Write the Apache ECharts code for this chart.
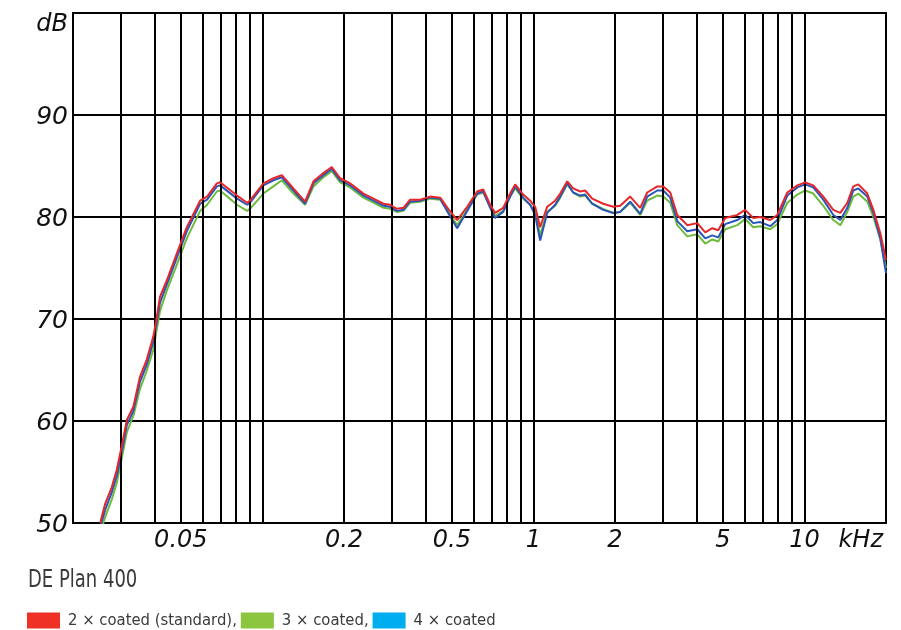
<!DOCTYPE html>
<html>
<head>
<meta charset="utf-8">
<script src="https://cdn.jsdelivr.net/npm/echarts@6/dist/echarts.min.js"></script>
<style>
html,body{margin:0;padding:0;background:#fff;}
#chart{width:901px;height:630px;}
</style>
</head>
<body>
<div id="chart"></div>
<script>
// Frequencies in kHz
const freqKHz = [0.0252,0.0263,0.0278,0.0290,0.0304,0.0316,0.0334,0.0353,0.0374,0.0396,
0.0407,0.0419,0.0444,0.0483,0.0526,0.0589,0.0625,0.0679,0.0698,0.0806,
0.0878,0.0900,0.1008,0.1098,0.1179,0.1301,0.1437,0.1543,0.1679,0.1803,
0.1935,0.2106,0.2358,0.2569,0.2797,0.2960,0.3133,0.3314,0.3508,0.3820,
0.4159,0.4529,0.4848,0.5232,0.5697,0.6201,0.6527,0.6926,0.7226,0.7733,
0.8207,0.8565,0.9166,0.9728,1.015,1.059,1.124,1.203,1.256,1.333,
1.402,1.488,1.552,1.648,1.809,1.970,2.090,2.276,2.478,2.630,
2.864,3.014,3.198,3.394,3.696,4.024,4.306,4.570,4.808,5.104,
5.652,6.048,6.474,6.871,7.482,7.941,8.646,9.415,10.07,10.78,
11.74,12.78,13.57,14.40,15.15,15.81,17.06,17.96,19.06,20.0];

const redDB = [50.0,51.9,53.5,55.2,57.8,60.1,61.4,64.3,66.0,68.3,
70.1,72.2,73.8,76.4,79.0,81.6,82.0,83.3,83.4,82.1,
81.4,81.6,83.3,83.8,84.1,82.8,81.5,83.5,84.3,84.9,
83.8,83.3,82.3,81.8,81.3,81.2,80.8,80.9,81.7,81.7,
82.0,81.9,80.8,79.7,81.0,82.5,82.7,81.2,80.4,80.9,
82.3,83.2,82.2,81.6,81.0,79.0,81.0,81.6,82.3,83.5,
82.8,82.5,82.6,81.8,81.3,81.0,81.1,82.0,80.9,82.4,
83.0,83.0,82.4,80.2,79.2,79.4,78.5,78.9,78.7,79.9,
80.2,80.7,79.9,80.0,79.7,80.2,82.4,83.1,83.4,83.1,
82.0,80.7,80.4,81.4,83.0,83.2,82.3,80.7,78.4,75.8];

const greenDB = [49.0,50.6,52.3,53.9,56.6,58.9,60.5,63.1,64.9,67.0,
68.9,70.8,72.8,75.3,77.9,80.6,81.2,82.5,82.6,81.2,
80.6,80.8,82.3,83.0,83.6,82.3,81.2,83.0,83.9,84.5,
83.4,82.9,81.9,81.4,80.9,80.8,80.5,80.6,81.4,81.5,
81.8,81.7,80.5,79.2,80.7,82.2,82.4,81.0,80.1,80.6,
82.0,82.8,81.8,81.2,80.5,78.2,80.5,81.1,81.9,83.2,
82.4,82.0,82.1,81.3,80.8,80.4,80.5,81.4,80.2,81.6,
82.1,82.0,81.4,79.2,78.1,78.3,77.4,77.8,77.6,78.8,
79.2,79.8,79.0,79.1,78.8,79.3,81.4,82.2,82.6,82.3,
81.1,79.7,79.2,80.5,82.0,82.3,81.5,80.0,77.8,75.0];

const blueDB = [49.6,51.3,53.0,54.6,57.2,59.6,61.0,63.8,65.5,67.8,
69.6,71.6,73.4,76.0,78.6,81.3,81.7,83.0,83.1,81.8,
81.2,81.4,83.1,83.6,83.9,82.6,81.3,83.3,84.1,84.7,
83.6,83.1,82.1,81.6,81.1,81.0,80.6,80.7,81.5,81.6,
81.9,81.8,80.4,78.9,80.6,82.3,82.5,80.9,79.9,80.5,
82.0,83.0,81.9,81.2,80.2,77.7,80.4,81.2,82.0,83.3,
82.4,82.1,82.2,81.3,80.7,80.4,80.5,81.5,80.3,82.0,
82.6,82.6,81.9,79.6,78.6,78.8,77.9,78.2,78.0,79.3,
79.7,80.2,79.4,79.5,79.1,79.7,82.1,82.9,83.2,82.9,
81.7,80.2,79.7,80.9,82.6,82.8,82.0,80.4,77.9,74.5];

// vertical grid lines (kHz) and their labels
const gridFreqs = [0.03,0.04,0.05,0.06,0.07,0.08,0.09,0.1,0.2,0.3,0.4,0.5,0.6,0.7,0.8,0.9,1,2,3,4,5,6,7,8,9,10];
const labeledFreqs = [0.05,0.2,0.5,1,2,5,10];
const labelTexts = ['0.05','0.2','0.5','1','2','5','10'];

const seriesNames = ['2 × coated (standard)','3 × coated','4 × coated'];
const lineColors = {red:'#e5262b', green:'#6dbb3c', blue:'#2a55b8'};
const legendColors = ['#ee3124','#8cc63f','#00aeef'];

const narrowFont = "'DejaVu Sans Condensed','Liberation Sans Narrow',sans-serif";

const chart = echarts.init(document.getElementById('chart'), null, {renderer:'canvas'});

const markData = gridFreqs.map(f => {
  const k = labeledFreqs.indexOf(f);
  const item = {xAxis: f};
  if (k >= 0) {
    item.label = {show:true, position:'start', distance:6, formatter: labelTexts[k],
      fontFamily:'DejaVu Sans', fontStyle:'italic', fontSize:24, color:'#111'};
  } else {
    item.label = {show:false};
  }
  return item;
});

const option = {
  backgroundColor:'#fff',
  animation:false,
  grid:{left:73, top:13, right:15, bottom:107, show:true, borderColor:'#000', borderWidth:2, backgroundColor:'transparent'},
  xAxis:{
    type:'log', logBase:10, min:0.02, max:20,
    axisLine:{show:false}, axisTick:{show:false}, axisLabel:{show:false}, splitLine:{show:false},
    name:'kHz', nameLocation:'end', nameGap:-3,
    nameTextStyle:{fontFamily:'DejaVu Sans', fontStyle:'italic', fontSize:24, color:'#111', align:'right', verticalAlign:'top', padding:[6,0,0,0]}
  },
  yAxis:{
    type:'value', min:50, max:100, interval:10,
    axisLine:{show:false}, axisTick:{show:false},
    splitLine:{show:true, lineStyle:{color:'#000', width:2}},
    axisLabel:{
      margin:5, padding:[4,0,0,0],
      fontFamily:'DejaVu Sans', fontStyle:'italic', fontSize:25, color:'#111',
      formatter: v => v === 100 ? '{d|dB}' : String(v),
      rich:{d:{fontFamily:'DejaVu Sans', fontStyle:'italic', fontSize:24, color:'#111', padding:[20,0,0,0]}}
    }
  },
  legend:{
    left:27, top:612, padding:0, icon:'rect', itemWidth:33, itemHeight:16, itemGap:4,
    selectedMode:false,
    textStyle:{fontFamily:narrowFont, fontSize:16.5, color:'#3a3a3a', padding:[0,0,0,3]},
    formatter: n => n === seriesNames[2] ? n : n + ',',
    data:[
      {name:seriesNames[0], itemStyle:{color:legendColors[0]}},
      {name:seriesNames[1], itemStyle:{color:legendColors[1]}},
      {name:seriesNames[2], itemStyle:{color:legendColors[2]}}
    ]
  },
  graphic:[{
    type:'text', x:28, y:568, scaleX:0.8, silent:true,
    style:{text:'DE Plan 400', fontFamily:narrowFont, fontSize:25, fill:'#3a3a3a'}
  }],
  series:[
    {
      name:'grid', type:'line', data:[], silent:true, z:1,
      markLine:{silent:true, symbol:['none','none'], animation:false,
        lineStyle:{color:'#000', width:2, type:'solid'},
        emphasis:{disabled:true},
        data: markData}
    },
    {name:seriesNames[1], type:'line', showSymbol:false, symbol:'none', z:3, clip:true,
     lineStyle:{color:lineColors.green, width:2}, itemStyle:{color:lineColors.green},
     data: freqKHz.map((f,i)=>[f, greenDB[i]])},
    {name:seriesNames[2], type:'line', showSymbol:false, symbol:'none', z:4, clip:true,
     lineStyle:{color:lineColors.blue, width:2}, itemStyle:{color:lineColors.blue},
     data: freqKHz.map((f,i)=>[f, blueDB[i]])},
    {name:seriesNames[0], type:'line', showSymbol:false, symbol:'none', z:5, clip:true,
     lineStyle:{color:lineColors.red, width:2}, itemStyle:{color:lineColors.red},
     data: freqKHz.map((f,i)=>[f, redDB[i]])}
  ]
};
chart.setOption(option);
</script>
</body>
</html>
